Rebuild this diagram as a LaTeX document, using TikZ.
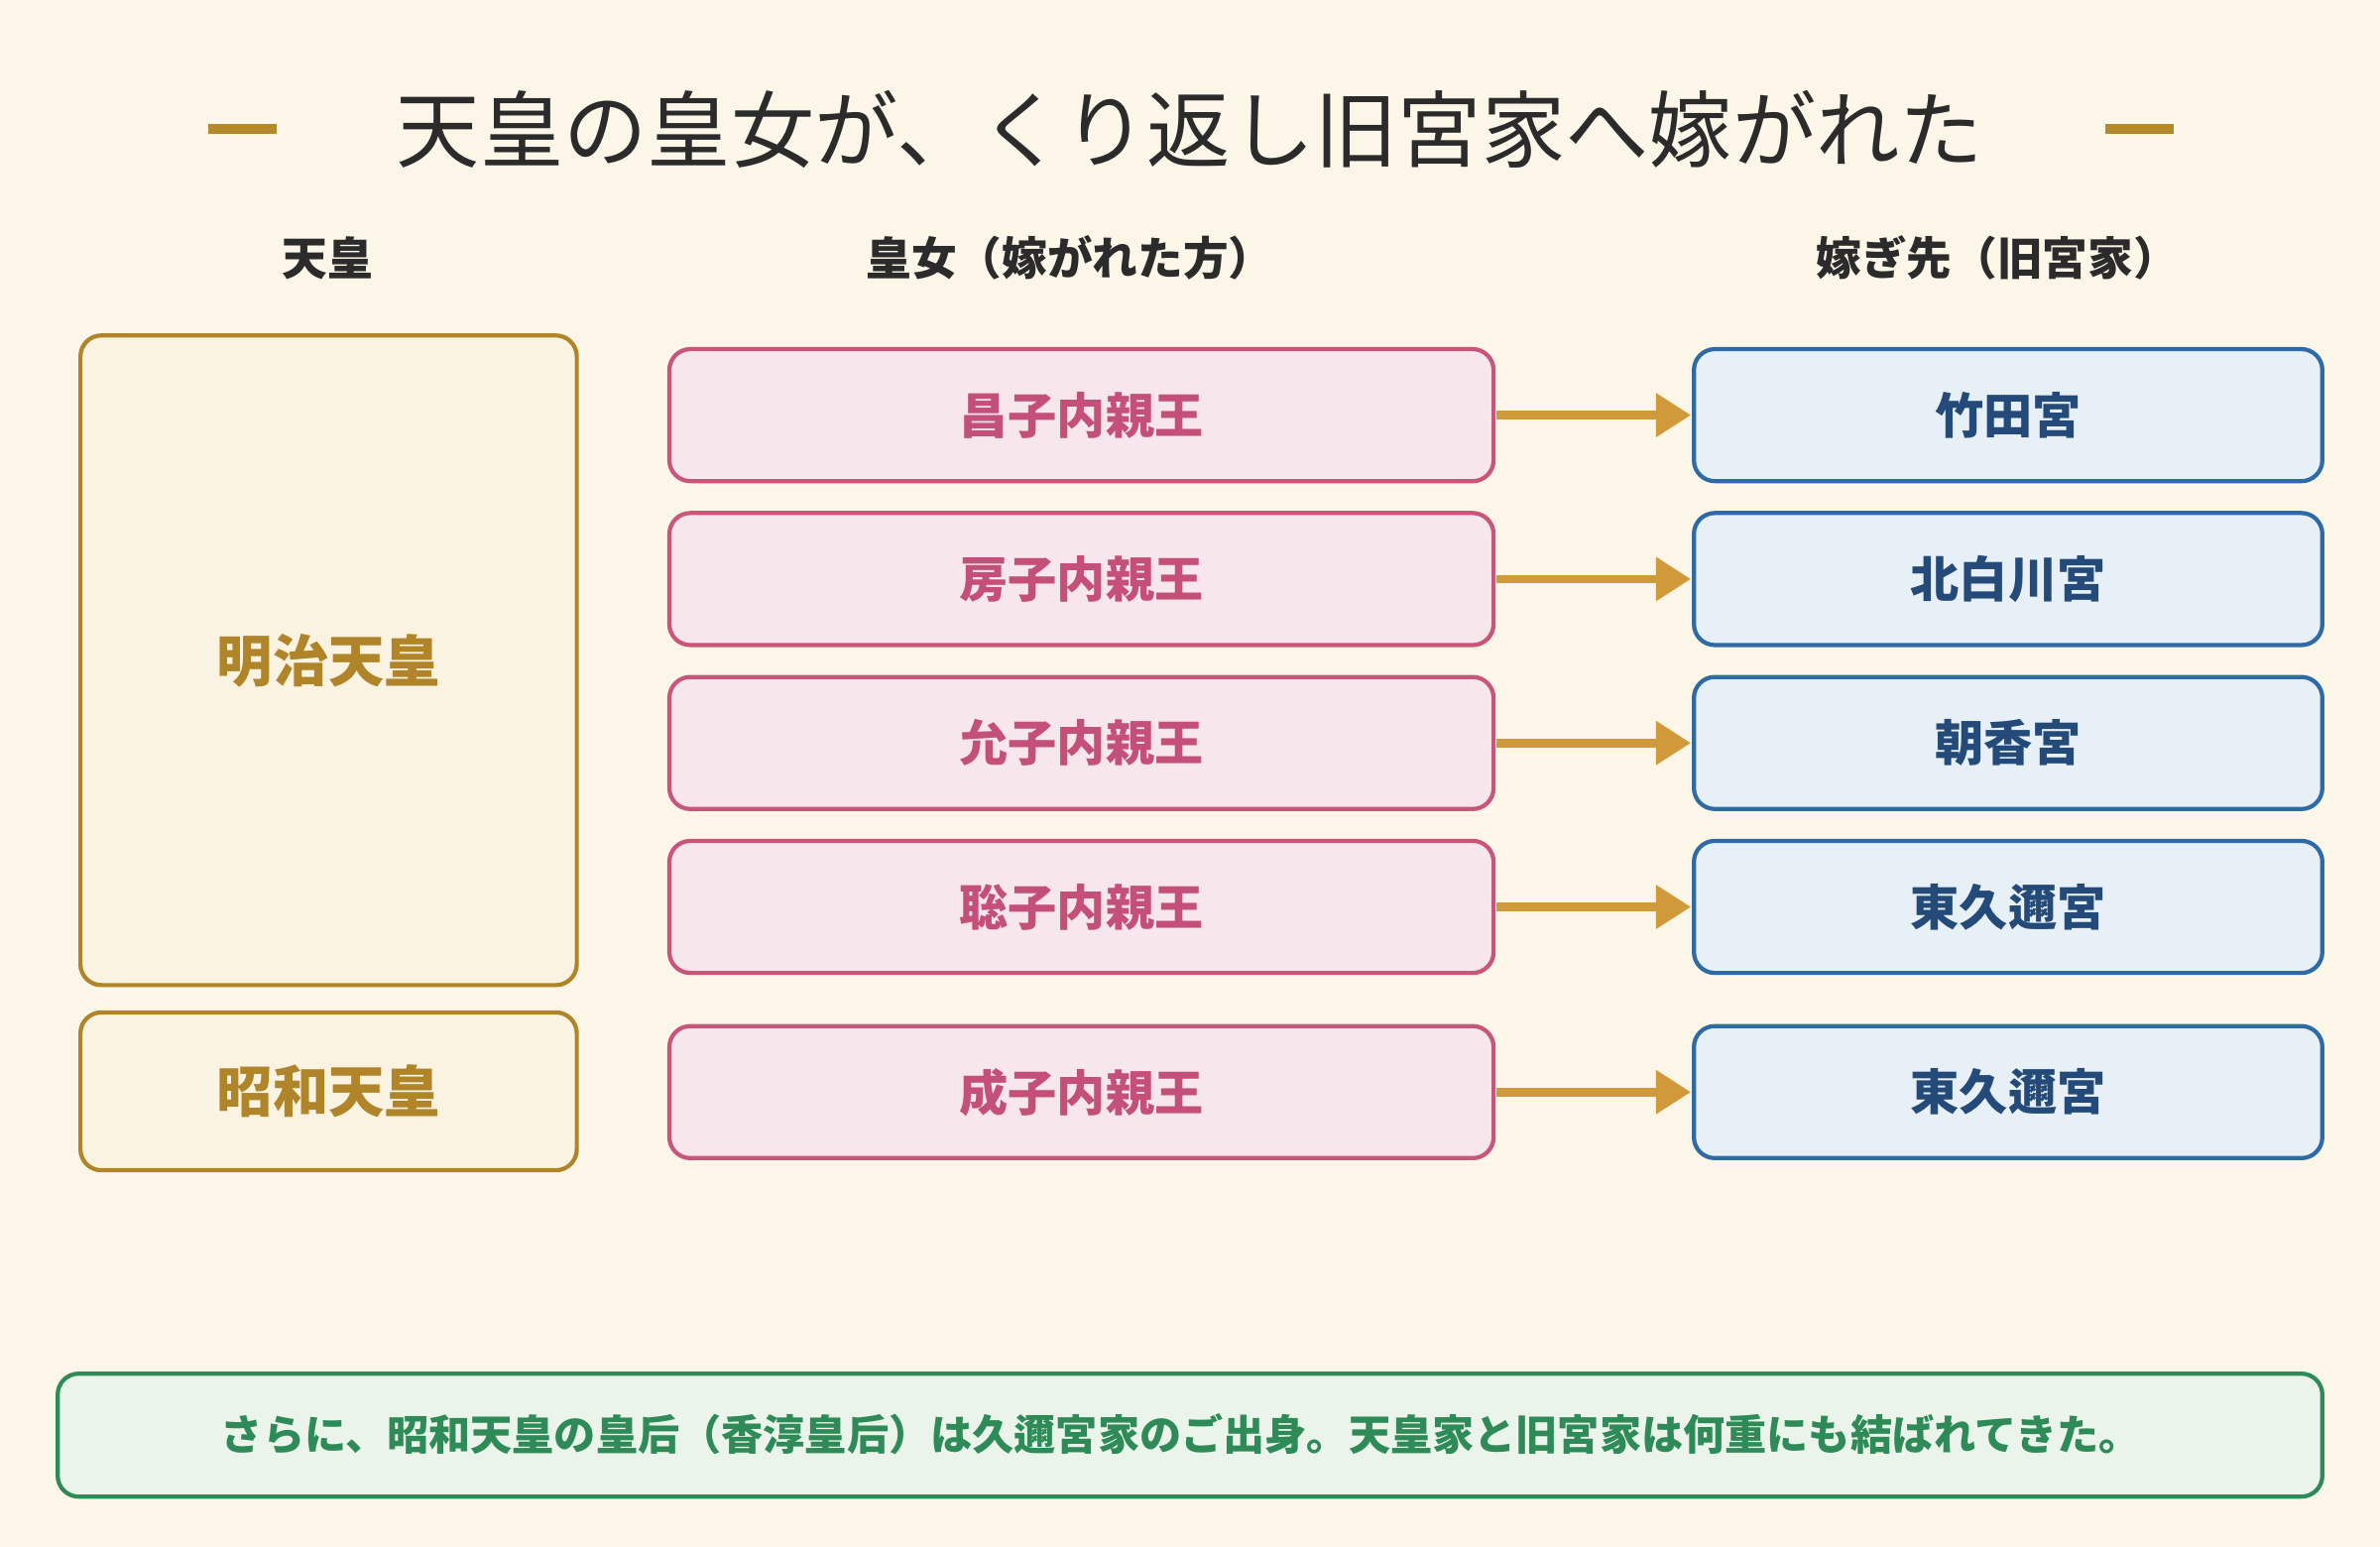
\documentclass[tikz,border=0pt]{standalone}
\usepackage{fontspec}
\setmainfont{Noto Sans CJK JP}
\newfontfamily\titlefont{Noto Sans CJK JP}
\usetikzlibrary{arrows.meta}
\definecolor{bgc}{HTML}{FCF6E8}
\definecolor{goldc}{HTML}{B08428}
\definecolor{goldf}{HTML}{FBF3E2}
\definecolor{pinkc}{HTML}{C9557A}
\definecolor{pinkf}{HTML}{F7E6EC}
\definecolor{pinkt}{HTML}{C44F78}
\definecolor{bluec}{HTML}{2E6AA6}
\definecolor{bluef}{HTML}{E7EFF7}
\definecolor{bluet}{HTML}{234A78}
\definecolor{arrc}{HTML}{D09A3A}
\definecolor{greenc}{HTML}{2E8B57}
\definecolor{greenf}{HTML}{EAF4EB}
\definecolor{textc}{HTML}{2B2B2B}
\begin{document}
\begin{tikzpicture}[x=0.1531mm,y=-0.1531mm,
  emperor/.style={draw=goldc,fill=goldf,line width=1.2pt,rounded corners=6pt,text=goldc,font=\fontsize{16}{18}\selectfont\bfseries},
  princess/.style={draw=pinkc,fill=pinkf,line width=1.2pt,rounded corners=6pt,text=pinkt,font=\fontsize{14}{16}\selectfont\bfseries},
  house/.style={draw=bluec,fill=bluef,line width=1.2pt,rounded corners=6pt,text=bluet,font=\fontsize{14}{16}\selectfont\bfseries},
  header/.style={text=textc,font=\fontsize{13}{15}\selectfont\bfseries},
  link/.style={arrc,line width=2.5pt,-{Triangle[length=10pt,width=12pt]}}]
  % background
  \fill[bgc] (0,0) rectangle (1568,1019);
  \useasboundingbox (0,0) rectangle (1568,1019);

  % title
  \node[text=textc,font=\titlefont\fontsize{24}{28}\selectfont] (title) at (784,85) {天皇の皇女が、くり返し旧宮家へ嫁がれた};
  \draw[goldc!80!arrc,line width=3pt] (137,85) -- (182,85);
  \draw[goldc!80!arrc,line width=3pt] (1387,85) -- (1432,85);

  % column headers
  \node[header] (h1) at (216,170) {天皇};
  \node[header] (h2) at (705,170) {皇女（嫁がれた方）};
  \node[header] (h3) at (1316,170) {嫁ぎ先（旧宮家）};

  % emperors
  \draw[emperor] (53,221) rectangle node (meiji) {明治天皇} (380,649);
  \draw[emperor] (53,667) rectangle node (showa) {昭和天皇} (380,771);

  % princesses and houses
  \foreach \y/\p/\h [count=\i] in {230/昌子内親王/竹田宮, 338/房子内親王/北白川宮,
      446/允子内親王/朝香宮, 554/聡子内親王/東久邇宮, 676/成子内親王/東久邇宮} {
    \draw[princess] (441,\y) rectangle node (p\i) {\p} (984,\y+87);
    \draw[house] (1116,\y) rectangle node (k\i) {\h} (1530,\y+87);
    \coordinate (pa\i) at (986,\y+43.5);
    \coordinate (ka\i) at (1114,\y+43.5);
    \draw[link] (pa\i) -- (ka\i);
  }

  % note
  \draw[draw=greenc,fill=greenf,line width=1.2pt,rounded corners=6pt] (38,905) rectangle (1530,986);
  \node[text=greenc,font=\fontsize{12}{14}\selectfont\bfseries] (note) at (778,945)
    {さらに、昭和天皇の皇后（香淳皇后）は久邇宮家のご出身。天皇家と旧宮家は何重にも結ばれてきた。};
\end{tikzpicture}
\end{document}
